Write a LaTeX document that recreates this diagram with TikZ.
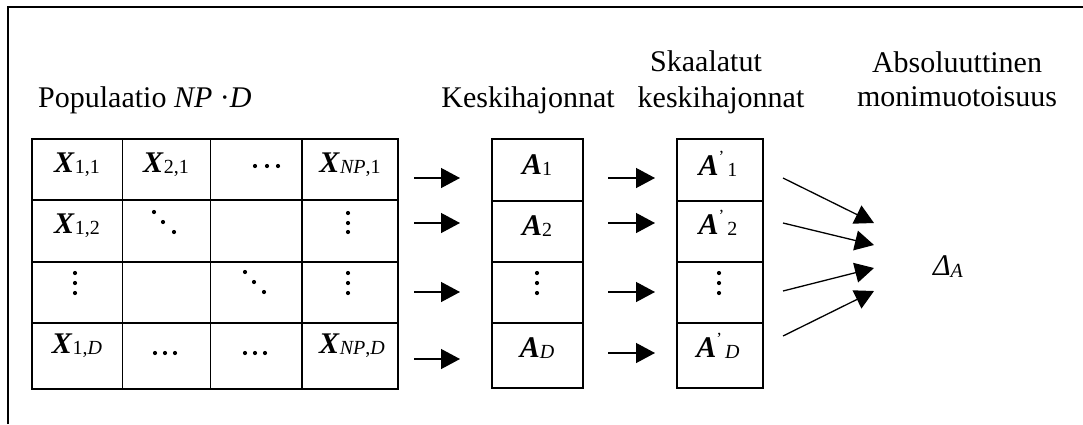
\documentclass[tikz,border=0pt]{standalone}
\usepackage{fontspec}
\setmainfont{Liberation Serif}
\usetikzlibrary{arrows.meta}
\newcommand{\bvar}[1]{\textbf{\textit{#1}}}
\newcommand{\subs}[1]{\raisebox{-1.2pt}{\fontsize{20}{23}\selectfont #1}}
\newcommand{\prm}{\raisebox{13pt}{\fontsize{17}{20}\selectfont ’}}
\tikzset{
  lbl/.style={anchor=base, inner sep=0pt, font=\fontsize{30}{35}\selectfont},
  flow/.style={line width=1.3pt, -{Triangle[length=19pt, width=20pt]}},
  gridline/.style={line width=1.5pt, line cap=rect},
  thinline/.style={line width=1.0pt},
  dotr/.style={fill=black}
}
\begin{document}
\begin{tikzpicture}[x=1pt,y=-1pt]
\useasboundingbox (0,0) rectangle (1083,424);
\fill[white] (0,0) rectangle (1083,424);
% outer frame (cropped)
\draw[line width=1.5pt] (8,424) -- (8,7) -- (1083,7);

% headers
\node[lbl, anchor=base west] (hpop) at (38,107) {Populaatio \textit{NP} ·\textit{D}};
\node[lbl] (hkes) at (528,107) {Keskihajonnat};
\node[lbl] (hska1) at (706,71) {Skaalatut};
\node[lbl] (hska2) at (721,107) {keskihajonnat};
\node[lbl] (habs1) at (957,72) {Absoluuttinen};
\node[lbl] (habs2) at (957,106) {monimuotoisuus};

% population table
\draw[gridline] (32,139) rectangle (398,389);
\foreach \y in {200,262,323} \draw[gridline] (32,\y) -- (398,\y);
\draw[thinline] (122,139) -- (122,389);
\draw[thinline] (210,139) -- (210,389);
\draw[gridline] (302,139) -- (302,389);

\node[lbl] (x11) at (77,172) {\bvar{X}\subs{1,1}};
\node[lbl] (x21) at (166,172) {\bvar{X}\subs{2,1}};
\node[lbl] (xnp1) at (350,172) {\bvar{X}\subs{\textit{NP},1}};
\node[lbl] (x12) at (77,233) {\bvar{X}\subs{1,2}};
\node[lbl] (x1d) at (77,353) {\bvar{X}\subs{1,\textit{D}}};
\node[lbl] (xnpd) at (352,353) {\bvar{X}\subs{\textit{NP},\textit{D}}};

% dots
\foreach \p in {(255,166),(267,166),(278,166),
                (155,353),(165,353),(175,353),
                (245,353),(255,353),(265,353),
                (348,213),(348,223),(348,232),
                (75,273),(75,283),(75,293),
                (348,273),(348,283),(348,293),
                (154,212),(163,222),(174,232),
                (245,272),(254,282),(264,292),
                (537,273),(537,283),(537,293),
                (719,273),(719,283),(719,293)}
  \fill[dotr] \p circle (2.1pt);

% A column
\draw[gridline] (492,139) rectangle (583,388);
\foreach \y in {201,262,323} \draw[gridline] (492,\y) -- (583,\y);
\node[lbl] (a1) at (537,174) {\bvar{A}\subs{1}};
\node[lbl] (a2) at (537,235) {\bvar{A}\subs{2}};
\node[lbl] (ad) at (537,357) {\bvar{A}\subs{\textit{D}}};

% A' column
\draw[gridline] (677,139) rectangle (763,388);
\foreach \y in {201,262,323} \draw[gridline] (677,\y) -- (763,\y);
\node[lbl] (s1) at (718,175) {\bvar{A}\prm\hspace{3pt}\subs{1}};
\node[lbl] (s2) at (718,234) {\bvar{A}\prm\hspace{3pt}\subs{2}};
\node[lbl] (sd) at (718,357) {\bvar{A}\prm\hspace{3pt}\subs{\textit{D}}};

% Delta
\node[lbl] (delta) at (948,275) {\textit{Δ}\raisebox{-2pt}{\fontsize{20}{22}\selectfont\textit{A}}};

% arrow coordinates
\coordinate (p1s) at (414,178); \coordinate (p1e) at (460,178);
\coordinate (p2s) at (414,223); \coordinate (p2e) at (460,223);
\coordinate (p3s) at (414,292); \coordinate (p3e) at (460,292);
\coordinate (p4s) at (414,359); \coordinate (p4e) at (460,359);
\coordinate (q1s) at (608,178); \coordinate (q1e) at (655,178);
\coordinate (q2s) at (608,223); \coordinate (q2e) at (655,223);
\coordinate (q3s) at (608,292); \coordinate (q3e) at (655,292);
\coordinate (q4s) at (608,353); \coordinate (q4e) at (655,353);
\coordinate (r1s) at (783,178); \coordinate (r1e) at (874,223);
\coordinate (r2s) at (783,223); \coordinate (r2e) at (874,245);
\coordinate (r3s) at (783,291); \coordinate (r3e) at (874,268);
\coordinate (r4s) at (783,336); \coordinate (r4e) at (874,291);
\foreach \n in {p1,p2,p3,p4,q1,q2,q3,q4,r1,r2,r3,r4}
  \draw[flow] (\n s) -- (\n e);
\end{tikzpicture}
\end{document}
